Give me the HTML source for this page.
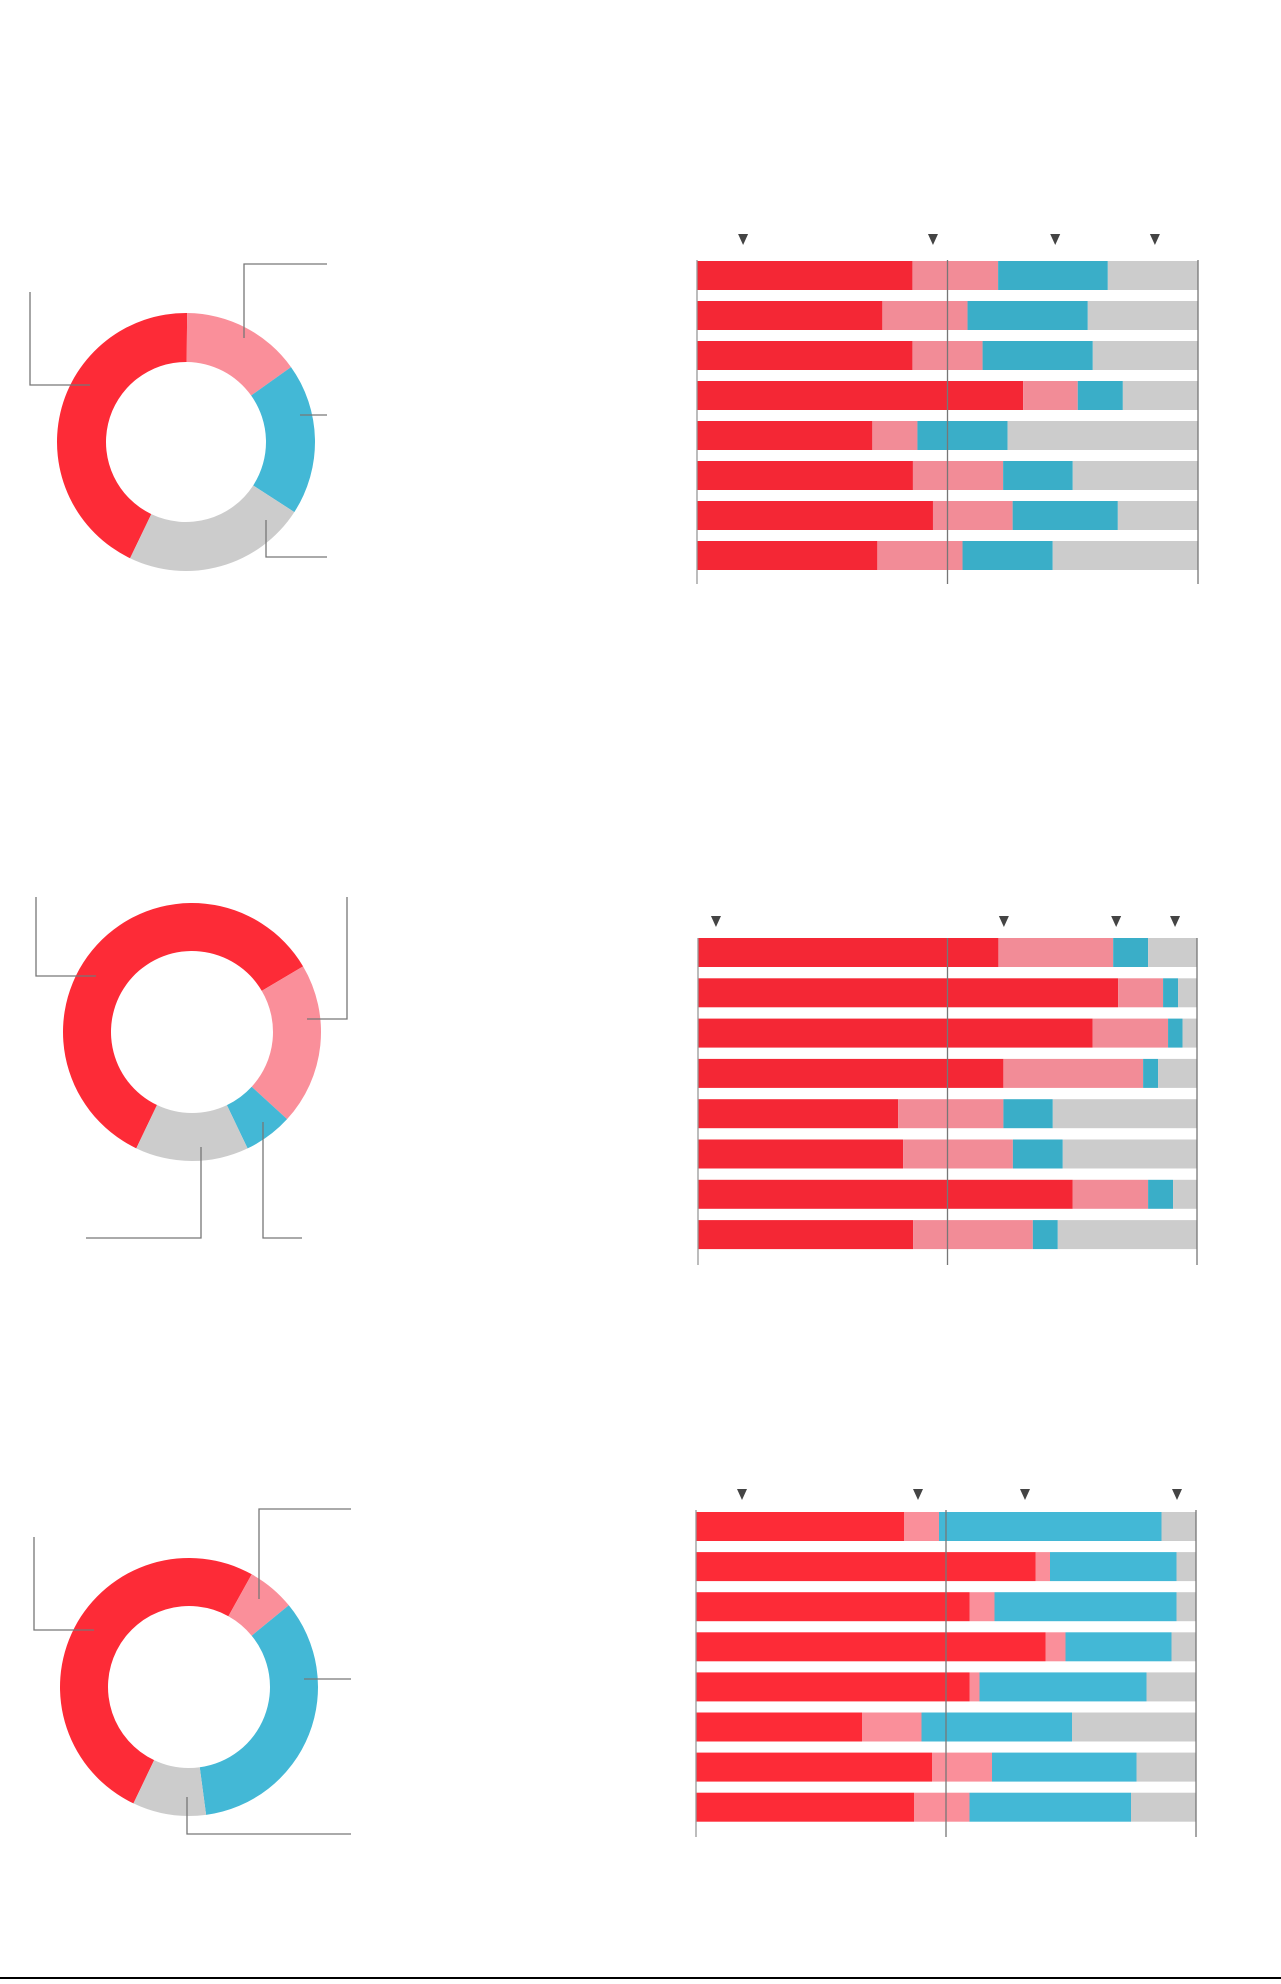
<!DOCTYPE html>
<html><head><meta charset="utf-8"><style>
html,body{margin:0;padding:0;background:#fff;}
body{width:1281px;height:1979px;overflow:hidden;font-family:"Liberation Sans",sans-serif;}
</style></head><body>
<svg id="root" width="1281" height="1979" xmlns="http://www.w3.org/2000/svg">
<line x1="0" y1="1978" x2="1281" y2="1978" stroke="#000" stroke-width="2"/>
</svg>
<script>
// Panel 1
const bars1Red  = [43.0, 37.0, 43.0, 65.1, 35.0, 43.1, 47.1, 36.0];
const bars1Pink = [17.1, 17.0, 14.0, 10.9, 9.0, 18.0, 15.9, 17.0];
const bars1Blue = [21.9, 24.0, 22.0, 9.0, 18.0, 13.9, 21.0, 18.0];
const bars1Markers = [9.2, 47.1, 71.5, 91.4];
const donut1Values = [43, 15, 19, 23];
// Panel 2
const bars2Red  = [60.2, 84.2, 79.1, 61.2, 40.1, 41.1, 75.1, 43.1];
const bars2Pink = [23.0, 9.0, 15.1, 28.0, 21.1, 22.0, 15.1, 24.0];
const bars2Blue = [7.0, 3.0, 2.9, 3.0, 9.9, 10.0, 5.0, 5.0];
const bars2Markers = [3.6, 61.3, 83.8, 95.6];
const donut2Values = [59.4, 20.3, 6.1, 14.2];
// Panel 3
const bars3Red  = [41.6, 67.9, 54.7, 69.9, 54.7, 33.2, 47.2, 43.6];
const bars3Pink = [7.0, 2.9, 5.0, 4.0, 2.0, 11.9, 12.0, 11.1];
const bars3Blue = [44.5, 25.3, 36.4, 21.2, 33.4, 30.1, 28.9, 32.3];
const bars3Markers = [9.2, 44.4, 65.8, 96.2];
const donut3Values = [51, 6, 33.8, 9.2];

const NS = "http://www.w3.org/2000/svg";
const root = document.getElementById('root');
function mk(tag, attrs, parent){
  const e = document.createElementNS(NS, tag);
  for (const k in attrs) e.setAttribute(k, attrs[k]);
  (parent||root).appendChild(e); return e;
}
const muted = ['#f42735','#f28c97','#3aaec8','#cccccc'];
const bright = ['#fd2b37','#fa8f9a','#43b8d6','#cccccc'];
const donutCols = ['#fd2b37','#fa8f9a','#43b8d6','#cccccc'];
const segNames = ['red','pink','blue','grey'];

function barChart(cfg, red, pink, blue, markers, cols){
  const g = mk('g', {});
  
  
  const xs = v => cfg.x0 + v/100*cfg.w;
  for (let i=0;i<red.length;i++){
    const y = cfg.y0 + i*cfg.step;
    const vals = [red[i], pink[i], blue[i], 100-red[i]-pink[i]-blue[i]];
    let acc = 0;
    for (let s=0;s<4;s++){
      const r = mk('rect', {x:xs(acc), y:y, width:vals[s]/100*cfg.w, height:cfg.h, fill:cols[s]}, g);
      
      
      acc += vals[s];
    }
  }
  const axes = [[0,'#999'],[50,'#777'],[100,'#777']];
  axes.forEach(([v,c],k)=>{
    const l = mk('line', {x1:xs(v), x2:xs(v), y1:cfg.axTop, y2:cfg.axBot, stroke:c, 'stroke-width':1.3}, g);
    
    
  });
  markers.forEach((m,k)=>{
    const x = xs(m), y = cfg.my;
    const p = mk('path', {d:`M${x-5},${y-6}L${x+5},${y-6}L${x},${y+5}Z`, fill:'#444'}, g);
    
    
  });
}

function donut(cfg, values){
  const g = mk('g', {});
  
  
  const tot = values.reduce((a,b)=>a+b,0);
  let a = cfg.start;
  const pt = (r,deg)=>{const t=deg*Math.PI/180; return [cfg.cx+r*Math.sin(t), cfg.cy-r*Math.cos(t)];};
  values.forEach((v,i)=>{
    const sw = v/tot*360, a2 = a+sw, lg = sw>180?1:0;
    const [x1,y1]=pt(cfg.R,a),[x2,y2]=pt(cfg.R,a2),[x3,y3]=pt(cfg.r,a2),[x4,y4]=pt(cfg.r,a);
    const p = mk('path', {d:`M${x1},${y1}A${cfg.R},${cfg.R} 0 ${lg} 1 ${x2},${y2}L${x3},${y3}A${cfg.r},${cfg.r} 0 ${lg} 0 ${x4},${y4}Z`, fill:donutCols[i]}, g);
    
    
    a = a2;
  });
  cfg.leaders.forEach((pts,k)=>{
    const l = mk('polyline', {points:pts, fill:'none', stroke:'#777', 'stroke-width':1.3}, g);
    
    
  });
}

barChart({name:'bar-chart-1', x0:697, w:501, y0:261, h:29, step:40, axTop:260, axBot:584, my:240}, bars1Red, bars1Pink, bars1Blue, bars1Markers, muted);
barChart({name:'bar-chart-2', x0:698, w:499, y0:938, h:29, step:40.3, axTop:938, axBot:1265, my:922}, bars2Red, bars2Pink, bars2Blue, bars2Markers, muted);
barChart({name:'bar-chart-3', x0:696, w:500, y0:1512, h:29, step:40.1, axTop:1510, axBot:1837, my:1495}, bars3Red, bars3Pink, bars3Blue, bars3Markers, bright);

donut({name:'donut-chart-1', cx:186, cy:442, R:129, r:80, start:-154.3, leaders:[
  '30,292 30,385 90,385','244,338 244,264 327,264','300,415 327,415','266,520 266,557 327,557']}, donut1Values);
donut({name:'donut-chart-2', cx:192, cy:1032, R:129, r:81, start:-154.4, leaders:[
  '36,897 36,976 96,976','307,1019 347,1019 347,897','201,1147 201,1238 86,1238','263,1122 263,1238 302,1238']}, donut2Values);
donut({name:'donut-chart-3', cx:189, cy:1687, R:129, r:81, start:-154.5, leaders:[
  '34,1537 34,1630 94,1630','259,1599 259,1509 351,1509','304,1679 351,1679','187,1797 187,1834 351,1834']}, donut3Values);
</script>
</body></html>
